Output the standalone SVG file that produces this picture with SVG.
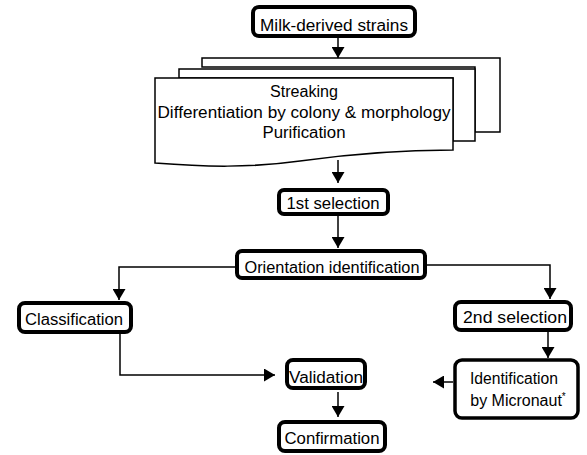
<svg xmlns="http://www.w3.org/2000/svg" width="587" height="455" viewBox="0 0 587 455">
<style>
.box{fill:#fff;stroke:#000;stroke-width:4}
.doc{fill:#fff;stroke:#000;stroke-width:1.5}
.t{font-family:"Liberation Sans",Arial,sans-serif;font-size:16px;fill:#000;text-anchor:middle}
.c{fill:none;stroke:#000;stroke-width:1.5}
</style>
<defs>
<marker id="ah" markerUnits="userSpaceOnUse" markerWidth="13" markerHeight="13" refX="11" refY="6.5" orient="auto">
<path d="M0,0 L11,6.5 L0,13 Z" fill="#000"/>
</marker>
</defs>
<rect width="587" height="455" fill="#fff"/>
<g id="connectors">
<line class="c" x1="338" y1="38" x2="338" y2="58" marker-end="url(#ah)"/>
<line class="c" x1="338" y1="160" x2="338" y2="183" marker-end="url(#ah)"/>
<line class="c" x1="338" y1="216" x2="338" y2="248" marker-end="url(#ah)"/>
<polyline class="c" points="235,267 119,267 119,300" marker-end="url(#ah)"/>
<polyline class="c" points="427,265 550,265 550,299" marker-end="url(#ah)"/>
<line class="c" x1="548" y1="332" x2="548" y2="358" marker-end="url(#ah)"/>
<line class="c" x1="453" y1="382" x2="433" y2="382" marker-end="url(#ah)"/>
<polyline class="c" points="120,334 120,375 275,375" marker-end="url(#ah)"/>
<line class="c" x1="338" y1="392" x2="338" y2="417" marker-end="url(#ah)"/>
</g>
<g id="milk">
<rect class="box" x="253" y="7" width="162" height="29" rx="6"/>
<text class="t" x="334" y="31" textLength="148" lengthAdjust="spacingAndGlyphs">Milk-derived strains</text>
</g>
<g id="documents">
<path class="doc" d="M202,58 H500 V132 H475 V67 H202 Z"/>
<path class="doc" d="M179,69 H475 V141 H453 V78 H179 Z"/>
<path class="doc" d="M155,78 H453 V150 C400,150 350,154 300,161 C250,168 205,167 155,163 Z"/>
<text class="t" x="304" y="97" textLength="68" lengthAdjust="spacingAndGlyphs">Streaking</text>
<text class="t" x="304" y="118" textLength="293" lengthAdjust="spacingAndGlyphs">Differentiation by colony &amp; morphology</text>
<text class="t" x="304" y="138" textLength="83" lengthAdjust="spacingAndGlyphs">Purification</text>
</g>
<g id="first">
<rect class="box" x="279" y="190" width="109" height="24" rx="5"/>
<text class="t" x="333" y="209" textLength="93" lengthAdjust="spacingAndGlyphs">1st selection</text>
</g>
<g id="orientation">
<rect class="box" x="237" y="251" width="188" height="27" rx="5"/>
<text class="t" x="332" y="273" textLength="175" lengthAdjust="spacingAndGlyphs">Orientation identification</text>
</g>
<g id="classification">
<rect class="box" x="19" y="303" width="112" height="29" rx="6"/>
<text class="t" x="74" y="325" textLength="98" lengthAdjust="spacingAndGlyphs">Classification</text>
</g>
<g id="second">
<rect class="box" x="455" y="302" width="116" height="28" rx="6"/>
<text class="t" x="515" y="323" textLength="104" lengthAdjust="spacingAndGlyphs">2nd selection</text>
</g>
<g id="micronaut">
<rect class="box" x="455" y="360" width="123" height="58" rx="7" style="stroke-width:3.5"/>
<text class="t" x="514" y="384" textLength="88" lengthAdjust="spacingAndGlyphs">Identification</text>
<text class="t" x="518" y="406">by Micronaut<tspan font-size="10" dy="-6">*</tspan></text>
</g>
<g id="validation">
<rect class="box" x="287" y="360" width="78" height="28" rx="6"/>
<text class="t" x="326" y="383" textLength="74" lengthAdjust="spacingAndGlyphs">Validation</text>
</g>
<g id="confirmation">
<rect class="box" x="279" y="422" width="106" height="29" rx="6"/>
<text class="t" x="332" y="444" textLength="95" lengthAdjust="spacingAndGlyphs">Confirmation</text>
</g>
</svg>
